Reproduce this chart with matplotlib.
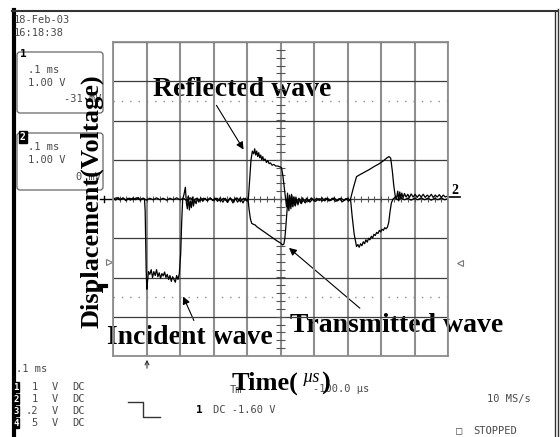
import numpy as np
import matplotlib.pyplot as plt
from matplotlib.patches import FancyBboxPatch

W, H = 560, 437

# scope settings: 0.1 ms/div (time in us), 1 V/div
t_div = 100
v_div = 1.0

# channel 1: incident pulse, reflected pulse, second reflection
ch1_pts = [
    (0, 0.02), (8, -0.03), (15, 0.04), (22, -0.02), (30, 0.03), (38, -0.04), (45, 0.02),
    (52, -0.03), (60, 0.03), (68, -0.02), (75, 0.04), (82, -0.03), (90, 0.02), (94, 0.0),
    (96, -0.3), (99, -1.8), (101, -2.3), (103, -2.1), (106, -1.85), (110, -1.92), (114, -1.8),
    (118, -2.0), (122, -1.85), (126, -1.95), (130, -1.8), (134, -1.98), (138, -1.88),
    (142, -2.02), (146, -1.9), (150, -1.96), (154, -1.86), (158, -2.0), (162, -1.92),
    (166, -2.05), (170, -1.95), (174, -2.1), (178, -1.98), (182, -2.05), (186, -2.12),
    (190, -1.95), (194, -2.05), (198, -1.9),
    (202, -1.4), (205, -0.6), (208, 0.0), (212, 0.12), (216, 0.3), (219, -0.1), (222, -0.25),
    (225, 0.08), (228, -0.28), (231, -0.05), (234, -0.22), (237, 0.05), (240, -0.18),
    (244, -0.02), (248, -0.12), (252, 0.02), (256, -0.08), (262, 0.03), (268, -0.06),
    (275, 0.02), (282, -0.05), (290, 0.03), (298, -0.04), (305, 0.02), (312, -0.06),
    (320, 0.03), (328, -0.08), (335, 0.02), (342, -0.09), (350, 0.03), (358, -0.1),
    (365, 0.02), (372, -0.08), (380, 0.03), (388, -0.1), (395, 0.02), (400, -0.05),
    (404, 0.0), (408, 0.5), (412, 1.0), (416, 1.22), (420, 1.15), (423, 1.28), (426, 1.12),
    (429, 1.22), (432, 1.08), (435, 1.18), (438, 1.05), (441, 1.12), (444, 1.0), (447, 1.08),
    (450, 0.98), (454, 1.02), (458, 0.93), (462, 0.98), (466, 0.9), (470, 0.92), (475, 0.86),
    (480, 0.88), (486, 0.84), (492, 0.84), (498, 0.82), (503, 0.8), (507, 0.6), (511, 0.3),
    (515, 0.0), (518, -0.2),
    (521, 0.15), (524, -0.25), (527, 0.1), (530, -0.2), (533, 0.12), (536, -0.18), (539, 0.05),
    (542, -0.15), (546, 0.05), (550, -0.12), (555, 0.02), (560, -0.1), (566, 0.03),
    (572, -0.08), (578, 0.02), (585, -0.06), (592, 0.03), (600, -0.05), (608, 0.02),
    (616, -0.04), (624, 0.03), (632, -0.05), (640, 0.02), (650, -0.04), (660, 0.03),
    (670, -0.05), (680, 0.02), (690, -0.04), (700, 0.02), (706, -0.03),
    (709, 0.0), (718, 0.3), (727, 0.57), (737, 0.62), (750, 0.68), (765, 0.75), (780, 0.83),
    (795, 0.9), (808, 0.98), (818, 1.05), (824, 1.08), (829, 1.04), (834, 0.7), (838, 0.35),
    (842, 0.1), (846, 0.0),
    (850, 0.2), (853, -0.05), (856, 0.18), (859, 0.02), (862, 0.15), (866, 0.03), (870, 0.14),
    (875, 0.05), (880, 0.12), (885, 0.04), (890, 0.13), (896, 0.05), (902, 0.12), (908, 0.04),
    (914, 0.11), (920, 0.05), (926, 0.12), (932, 0.04), (938, 0.1), (944, 0.05), (950, 0.12),
    (956, 0.04), (962, 0.1), (968, 0.05), (974, 0.11), (980, 0.04), (986, 0.1), (992, 0.05),
    (1000, 0.08),
]

# channel 2: transmitted pulse and second transmitted pulse
ch2_pts = [
    (0, 0.0), (10, 0.03), (20, -0.02), (30, 0.02), (40, -0.03), (50, 0.02), (60, -0.02),
    (70, 0.03), (80, -0.02), (90, 0.02), (100, -0.03), (110, 0.02), (120, -0.02), (130, 0.03),
    (140, -0.02), (150, 0.02), (160, -0.03), (170, 0.02), (180, -0.02), (190, 0.03),
    (200, -0.02), (210, 0.02), (220, -0.04), (230, 0.03), (240, -0.03), (250, 0.02),
    (260, -0.04), (270, 0.02), (280, -0.03), (290, 0.02), (300, -0.04), (310, 0.02),
    (320, -0.05), (330, 0.02), (340, -0.06), (350, 0.02), (360, -0.05), (370, 0.03),
    (380, -0.06), (390, 0.02), (398, -0.04), (403, 0.0),
    (406, -0.25), (410, -0.5), (414, -0.62), (418, -0.64), (424, -0.66), (430, -0.71),
    (440, -0.77), (450, -0.83), (460, -0.89), (470, -0.95), (480, -1.01), (490, -1.07),
    (500, -1.12), (506, -1.17), (510, -1.15), (513, -1.0), (516, -0.7), (519, -0.35),
    (522, -0.05),
    (525, -0.3), (528, 0.05), (531, -0.25), (534, 0.08), (537, -0.2), (540, 0.02), (544, -0.18),
    (548, 0.0), (552, -0.15), (557, 0.0), (562, -0.12), (568, -0.02), (574, -0.1), (580, -0.03),
    (588, -0.08), (596, 0.0), (605, -0.06), (615, 0.01), (625, -0.05), (635, 0.02),
    (645, -0.05), (655, 0.02), (665, -0.06), (675, 0.01), (685, -0.07), (695, 0.01),
    (703, -0.05), (709, 0.0),
    (714, -0.45), (720, -0.9), (727, -1.21), (731, -1.16), (735, -1.23), (739, -1.14),
    (743, -1.19), (747, -1.09), (751, -1.14), (755, -1.04), (759, -1.1), (763, -1.0),
    (767, -1.04), (771, -0.95), (775, -0.99), (779, -0.9), (783, -0.93), (787, -0.85),
    (791, -0.88), (795, -0.8), (799, -0.84), (803, -0.77), (807, -0.8), (811, -0.73),
    (815, -0.76), (819, -0.72), (823, -0.6), (827, -0.32), (831, -0.1), (836, 0.0),
    (842, 0.04), (850, -0.02), (860, 0.03), (870, -0.02), (880, 0.02), (890, -0.03),
    (900, 0.02), (910, -0.02), (920, 0.03), (930, -0.02), (940, 0.02), (950, -0.03),
    (960, 0.02), (970, -0.02), (980, 0.03), (990, -0.02), (1000, 0.01),
]

# where the labels point: (time us, volts)
reflected_at = (394, 1.2)
incident_at = (206, -2.42)
transmitted_at = (519, -1.2)

t1, v1 = np.array(ch1_pts).T
t2, v2 = np.array(ch2_pts).T

mono = dict(family='DejaVu Sans Mono', fontsize=7.5, color='#4a4a4a', va='center')
serif = dict(family='Liberation Serif', fontweight='bold', fontsize=20, color='black')

fig = plt.figure(figsize=(W / 100, H / 100), dpi=100)

# pixel-space layer for the screen furniture
deco = fig.add_axes([0, 0, 1, 1])
deco.set_xlim(0, W)
deco.set_ylim(H, 0)
deco.axis('off')

# graticule
gx0, gx1, gy0, gy1 = 113, 448, 42, 356
ax = fig.add_axes([gx0 / W, 1 - gy1 / H, (gx1 - gx0) / W, (gy1 - gy0) / H])
ax.set_facecolor('none')
ax.set_xlim(0, 10 * t_div)
ax.set_ylim(-4 * v_div, 4 * v_div)
ax.set_xticks(np.arange(0, 10 * t_div + 1, t_div))
ax.set_yticks(np.arange(-4, 5) * v_div)
ax.tick_params(length=0, labelbottom=False, labelleft=False)
ax.grid(axis='x', color='#8e8e8e', lw=1.5)
ax.grid(axis='y', color='#3c3c3c', lw=0.9)
for s in ax.spines.values():
    s.set_color('#8e8e8e')
    s.set_linewidth(1.3)

# minor ticks along the centre cross
ax.vlines(np.arange(20, 1000, 20), -0.08, 0.08, color='#555555', lw=0.8)
ax.hlines(np.arange(-3.8, 3.9, 0.2), 488, 512, color='#555555', lw=0.8)
ax.axhline(2.5, color='#8a8a8a', lw=1, ls=(0, (1, 5)))
ax.axhline(-2.5, color='#8a8a8a', lw=1, ls=(0, (1, 5)))

ax.plot(t1, v1, color='black', lw=0.9)
ax.plot(t2, v2, color='black', lw=0.9)

# screen border
deco.plot([13.5, 13.5], [10, H], color='black', lw=3)
deco.plot([12, 558], [11, 11], color='#333333', lw=1.5)
deco.plot([555, 555], [11, H], color='#333333', lw=1)
deco.plot([558, 558], [9, H], color='#333333', lw=1)

# date / time
deco.text(14, 20, '18-Feb-03', **mono)
deco.text(14, 33, '16:18:38', **mono)

# channel setting boxes
for y0, h in [(52, 61), (133, 57)]:
    deco.add_patch(FancyBboxPatch((17, y0), 86, h, boxstyle='round,pad=0,rounding_size=3',
                                  fill=False, ec='#666666', lw=0.9))
deco.text(20, 54, '1', family='DejaVu Sans Mono', fontsize=8, fontweight='bold',
          color='black', va='center')
deco.text(20, 137, '2', family='DejaVu Sans Mono', fontsize=7, fontweight='bold',
          color='white', va='center',
          bbox=dict(boxstyle='square,pad=0.1', fc='black', ec='black'))
deco.text(28, 70, '.1 ms', **mono)
deco.text(28, 83, '1.00 V', **mono)
deco.text(101, 99, '-31 mV', ha='right', **mono)
deco.text(28, 147, '.1 ms', **mono)
deco.text(28, 160, '1.00 V', **mono)
deco.text(101, 177, '0 mV', ha='right', **mono)

# trace / trigger markers
deco.plot([100, 113], [199, 199], color='black', lw=1)
deco.plot([104, 104], [196, 202], color='black', lw=1)
deco.plot([100, 106], [286, 286], color='black', lw=3)
deco.plot([109], [262], marker='>', ms=5, mfc='white', mec='#777777', mew=0.8)
deco.plot([460], [263], marker='<', ms=5, mfc='white', mec='#777777', mew=0.8)
deco.plot([448, 460], [197, 197], color='black', lw=1.2)
deco.text(451, 190, '2', family='Liberation Serif', fontweight='bold', fontsize=10,
          color='black', va='center')
deco.annotate('', xy=(147, 357), xytext=(147, 371),
              arrowprops=dict(arrowstyle='->', color='#333333', lw=0.8, mutation_scale=7))

# bottom status lines
deco.text(16, 369, '.1 ms', **mono)
rows = [('1', '1'), ('2', '1'), ('3', '.2'), ('4', '5')]
for i, (ch, vdiv) in enumerate(rows):
    y = 387 + 12 * i
    deco.text(13, y, ch, family='DejaVu Sans Mono', fontsize=6.5, fontweight='bold',
              color='white', va='center',
              bbox=dict(boxstyle='square,pad=0.05', fc='black', ec='black'))
    deco.text(38, y, vdiv, ha='right', **mono)
    deco.text(52, y, 'V', **mono)
    deco.text(72, y, 'DC', **mono)
deco.plot([128, 143, 143, 160], [402, 402, 417, 417], color='#333333', lw=1)
deco.text(196, 410, '1', family='DejaVu Sans Mono', fontsize=8, fontweight='bold',
          color='black', va='center')
deco.text(213, 410, 'DC -1.60 V', **mono)
deco.text(230, 390, 'Tm', **mono)
deco.text(313, 389, '-100.0 \u00b5s', **mono)
deco.text(487, 399, '10 MS/s', **mono)
deco.text(459, 431, '\u25a1', ha='center', **mono)
deco.text(473, 431, 'STOPPED', **mono)

# labels
deco.text(153, 90, 'Reflected wave', va='center', **serif)
deco.text(107, 338, 'Incident wave', va='center', **serif)
deco.text(290, 325, 'Transmitted wave', va='center', **serif)
deco.text(92, 201, 'Displacement(Voltage)', rotation=90, ha='center', va='center',
          **{**serif, 'fontsize': 19})
deco.text(232, 383, 'Time(', va='center', **{**serif, 'fontsize': 19})
deco.text(303, 377, '\u00b5s', family='Liberation Serif', fontstyle='italic',
          fontsize=13, color='black', va='center')
deco.text(321, 383, ')', va='center', **{**serif, 'fontsize': 19})

arrow = dict(arrowstyle='-|>', color='black', lw=0.8, mutation_scale=11)
for at, tail in [(reflected_at, (215, 103)), (incident_at, (195, 323)),
                 (transmitted_at, (362, 310))]:
    deco.annotate('', xy=at, xycoords=ax.transData, xytext=tail, textcoords=deco.transData,
                  arrowprops=arrow)

fig.savefig('out.png', dpi=100)
